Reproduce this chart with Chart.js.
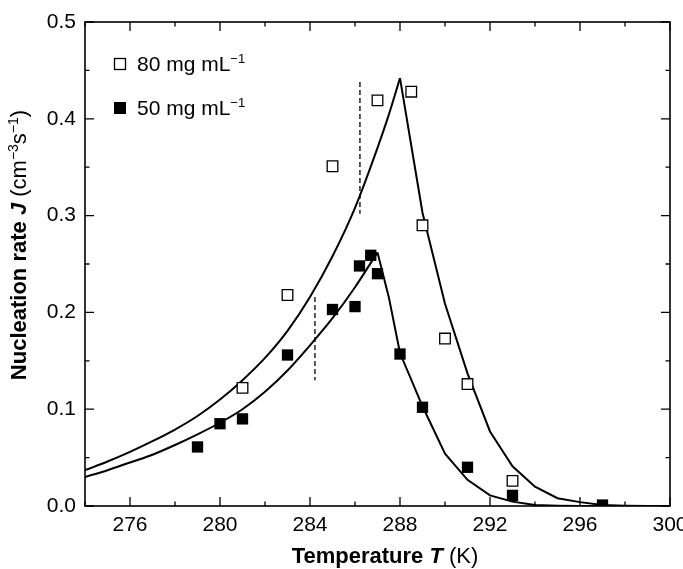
<!DOCTYPE html>
<html><head><meta charset="utf-8">
<script src="https://cdn.jsdelivr.net/npm/chart.js@4/dist/chart.umd.min.js"></script>
<style>html,body{margin:0;padding:0;background:#fff}</style>
</head><body>
<canvas id="c" width="683" height="569"></canvas>
<script>
// Measured data (80 mg/mL: open squares, 50 mg/mL: filled squares)
const T80 = [281, 283, 285, 287, 288.5, 289, 290, 291, 293];
const J80 = [0.122, 0.218, 0.351, 0.419, 0.428, 0.290, 0.173, 0.126, 0.026];
const T50 = [279, 280, 281, 283, 285, 286, 286.2, 286.7, 287, 288, 289, 291, 293, 297];
const J50 = [0.061, 0.085, 0.090, 0.156, 0.203, 0.206, 0.248, 0.259, 0.240, 0.157, 0.102, 0.040, 0.011, 0.001];
// Model curves: rising branch and falling branch
const fitT80up = [274,275,276,277,278,279,280,281,282,283,284,285,286,287,287.5,288];
const fitJ80up = [0.037,0.046,0.056,0.067,0.079,0.093,0.110,0.130,0.153,0.181,0.216,0.258,0.308,0.370,0.404,0.442];
const fitT80down = [288,289,290,291,292,293,294,295,296,297,298,299,300];
const fitJ80down = [0.442,0.303,0.209,0.137,0.077,0.041,0.020,0.008,0.004,0.001,0.0003,0.0001,0];
const fitT50up = [274,275,276,277,278,279,280,281,282,283,284,285,286,287];
const fitJ50up = [0.030,0.037,0.045,0.053,0.063,0.074,0.086,0.100,0.118,0.140,0.166,0.194,0.226,0.262];
const fitT50down = [287,287.5,288,289,290,291,292,293,294,295,296,297,298,299,300];
const fitJ50down = [0.262,0.216,0.158,0.103,0.054,0.027,0.011,0.0045,0.001,0.0003,0.0001,0,0,0,0];
// Dashed markers
const dashT1 = [286.22, 286.22], dashJ1 = [0.438, 0.302];
const dashT2 = [284.22, 284.22], dashJ2 = [0.216, 0.130];
// Ticks
const xTicks = [276, 280, 284, 288, 292, 296, 300];
const xMinor = [274, 278, 282, 286, 290, 294, 298];
const yTicks = [0, 0.1, 0.2, 0.3, 0.4, 0.5];
const yMinor = [0.05, 0.15, 0.25, 0.35, 0.45];
const legendLabels = ['80 mg mL', '50 mg mL'];

const FF = '"Liberation Sans", Arial, Helvetica, sans-serif';
const pts = (xs, ys) => xs.map((x, i) => ({x, y: ys[i]}));

function drawRuns(ctx, runs, x, y) {
  for (const r of runs) {
    ctx.font = r.font;
    ctx.fillText(r.t, x, y + (r.dy || 0));
    x += ctx.measureText(r.t).width;
  }
  return x;
}
function runsWidth(ctx, runs) {
  let w = 0;
  for (const r of runs) { ctx.font = r.font; w += ctx.measureText(r.t).width; }
  return w;
}

const decor = {
  id: 'decor',
  beforeDatasetsDraw(chart) {
    const {ctx, chartArea: a, scales: {x, y}} = chart;
    ctx.save();
    ctx.strokeStyle = '#000';
    ctx.lineWidth = 1.6;
    ctx.strokeRect(a.left, a.top, a.right - a.left, a.bottom - a.top);
    ctx.lineWidth = 1.3;
    const MJ = 9, MN = 4.5;
    ctx.beginPath();
    xTicks.forEach(v => { const p = x.getPixelForValue(v); ctx.moveTo(p, a.bottom); ctx.lineTo(p, a.bottom - MJ); ctx.moveTo(p, a.top); ctx.lineTo(p, a.top + MJ); });
    xMinor.forEach(v => { const p = x.getPixelForValue(v); ctx.moveTo(p, a.bottom); ctx.lineTo(p, a.bottom - MN); ctx.moveTo(p, a.top); ctx.lineTo(p, a.top + MN); });
    yTicks.forEach(v => { const p = y.getPixelForValue(v); ctx.moveTo(a.left, p); ctx.lineTo(a.left + MJ, p); ctx.moveTo(a.right, p); ctx.lineTo(a.right - MJ, p); });
    yMinor.forEach(v => { const p = y.getPixelForValue(v); ctx.moveTo(a.left, p); ctx.lineTo(a.left + MN, p); ctx.moveTo(a.right, p); ctx.lineTo(a.right - MN, p); });
    ctx.stroke();
    ctx.restore();
  },
  afterDraw(chart) {
    const {ctx} = chart;
    ctx.save();
    ctx.fillStyle = '#000';
    ctx.textBaseline = 'alphabetic';
    const S = 21, SS = 13, ST = 22, SST = 14;
    const reg = S + 'px ' + FF, sup = SS + 'px ' + FF;
    const tReg = ST + 'px ' + FF, tBold = 'bold ' + ST + 'px ' + FF, tBi = 'italic bold ' + ST + 'px ' + FF, tSup = SST + 'px ' + FF;
    // Legend
    const lx = 120, ly = [64, 108];
    ctx.lineWidth = 1.3; ctx.strokeStyle = '#000';
    ctx.fillStyle = '#fff'; ctx.fillRect(lx - 5.5, ly[0] - 5.5, 11, 11); ctx.strokeRect(lx - 5.5, ly[0] - 5.5, 11, 11);
    ctx.fillStyle = '#000'; ctx.fillRect(lx - 6, ly[1] - 6, 12, 12);
    legendLabels.forEach((lab, i) => {
      drawRuns(ctx, [{t: lab, font: reg}, {t: '\u22121', font: sup, dy: -8}], 137, ly[i] + 7);
    });
    // X title
    const xr = [{t: 'Temperature ', font: tBold}, {t: 'T', font: tBi}, {t: ' (K)', font: tReg}];
    const wx = runsWidth(ctx, xr);
    drawRuns(ctx, xr, 385 - wx / 2, 563);
    // Y title
    const yr = [{t: 'Nucleation rate ', font: tBold}, {t: 'J', font: tBi}, {t: ' (cm', font: tReg},
      {t: '\u22123', font: tSup, dy: -8}, {t: 's', font: tReg}, {t: '\u22121', font: tSup, dy: -8}, {t: ')', font: tReg}];
    const wy = runsWidth(ctx, yr);
    ctx.translate(26, 245 + wy / 2);
    ctx.rotate(-Math.PI / 2);
    drawRuns(ctx, yr, 0, 0);
    ctx.restore();
  }
};

const lineDs = (xs, ys, mode) => ({data: pts(xs, ys), showLine: true, pointRadius: 0, borderColor: '#000', borderWidth: 2,
  tension: mode ? 0.4 : 0, cubicInterpolationMode: mode || 'default', fill: false});

new Chart(document.getElementById('c'), {
  type: 'scatter',
  data: {
    datasets: [
      {data: pts(T80, J80), pointStyle: 'rect', pointRadius: 7.5, pointHoverRadius: 7.5, backgroundColor: '#fff', borderColor: '#000', borderWidth: 1.3, showLine: false},
      {data: pts(T50, J50), pointStyle: 'rect', pointRadius: 8, pointHoverRadius: 8, backgroundColor: '#000', borderColor: '#000', borderWidth: 0, showLine: false},
      lineDs(fitT80up, fitJ80up, 'monotone'),
      lineDs(fitT80down, fitJ80down, null),
      lineDs(fitT50up, fitJ50up, 'monotone'),
      lineDs(fitT50down, fitJ50down, null),
      {data: pts(dashT1, dashJ1), showLine: true, pointRadius: 0, borderColor: '#000', borderWidth: 1.3, borderDash: [5, 3], fill: false},
      {data: pts(dashT2, dashJ2), showLine: true, pointRadius: 0, borderColor: '#000', borderWidth: 1.3, borderDash: [5, 3], fill: false}
    ]
  },
  options: {
    responsive: false,
    devicePixelRatio: 1,
    animation: false,
    layout: {padding: {top: 22, right: 13, left: 0, bottom: 0}},
    plugins: {legend: {display: false}, tooltip: {enabled: false}},
    scales: {
      x: {
        type: 'linear', min: 274, max: 300,
        afterBuildTicks: s => { s.ticks = xTicks.map(v => ({value: v})); },
        afterFit: s => { s.height = 63; s.paddingLeft = 0; s.paddingRight = 0; },
        grid: {display: false, drawTicks: false},
        border: {display: false},
        ticks: {autoSkip: false, maxRotation: 0, padding: 7, color: '#000', font: {family: FF, size: 21}, callback: v => String(v)}
      },
      y: {
        type: 'linear', min: 0, max: 0.5,
        afterBuildTicks: s => { s.ticks = yTicks.map(v => ({value: v})); },
        afterFit: s => { s.width = 85; s.paddingTop = 0; s.paddingBottom = 0; },
        grid: {display: false, drawTicks: false},
        border: {display: false},
        ticks: {padding: 9, color: '#000', font: {family: FF, size: 21}, callback: v => Number(v).toFixed(1)}
      }
    }
  },
  plugins: [decor]
});
</script>
</body></html>
